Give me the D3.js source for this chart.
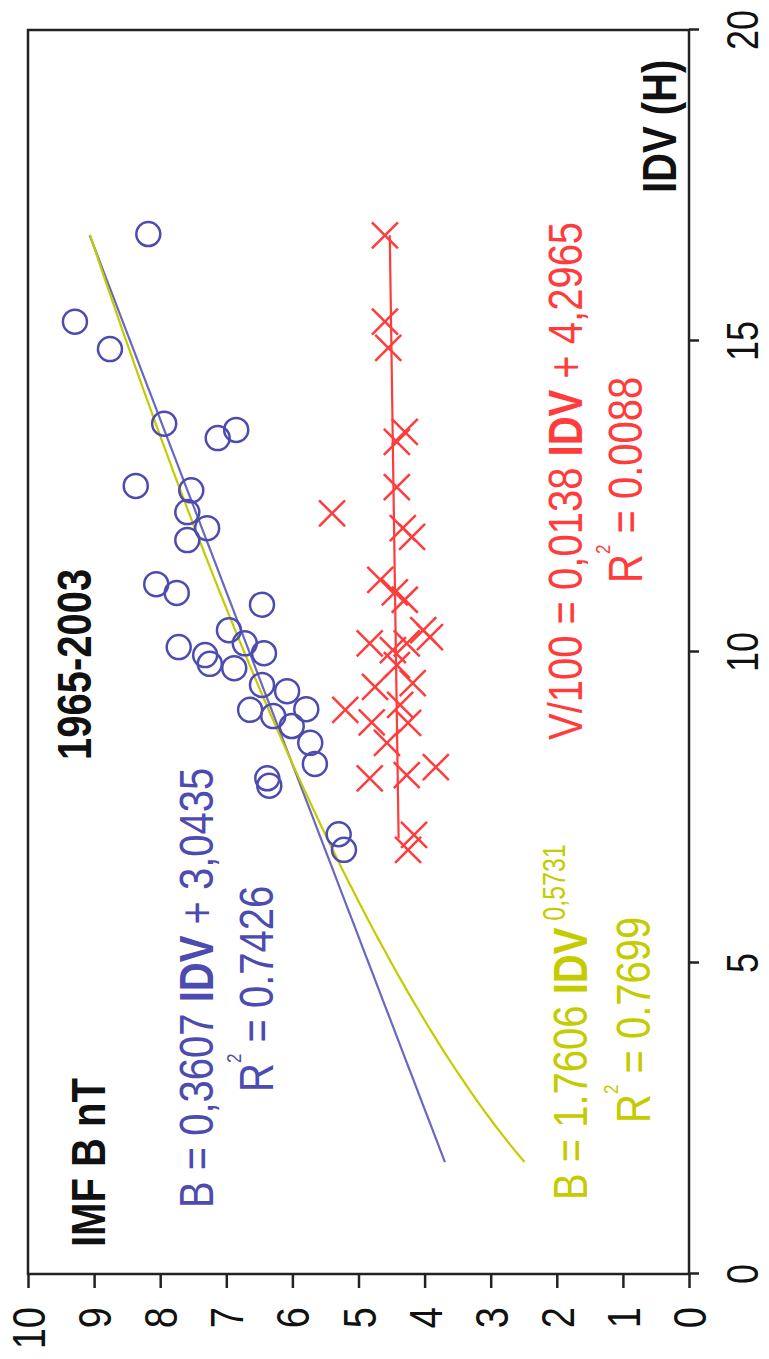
<!DOCTYPE html>
<meta charset="utf-8">
<title>IMF B vs IDV 1965-2003</title>
<script src="https://d3js.org/d3.v7.min.js"></script>
<style>
body { margin: 0; background: #fff; }
text { font-family: 'Liberation Sans', Arial, sans-serif; }
</style>
<svg id="chart" width="769" height="1359"></svg>
<script>
// values
var idvTicks = [0, 5, 10, 15, 20];
var bTicks = [0, 1, 2, 3, 4, 5, 6, 7, 8, 9, 10];

// IMF B (circles)
var circleIdv = [16.72, 15.31, 14.87, 13.67, 13.44, 13.57, 12.67, 12.60, 12.25, 11.99, 11.80,
    11.09, 10.95, 10.76, 10.35, 10.08, 9.95, 10.14, 9.98, 9.81, 9.74, 9.47, 9.37, 9.07, 8.97,
    9.08, 8.81, 8.54, 8.20, 7.97, 7.85, 7.07, 6.82];
var circleB = [8.18, 9.29, 8.76, 7.94, 7.13, 6.85, 8.37, 7.53, 7.59, 7.29, 7.59,
    8.06, 7.75, 6.46, 6.96, 7.72, 7.32, 6.72, 6.43, 7.25, 6.88, 6.46, 6.08, 6.64, 6.29,
    5.79, 6.01, 5.73, 5.66, 6.38, 6.35, 5.30, 5.22];

// V/100 (crosses)
var crossIdv = [16.70, 15.31, 14.89, 13.54, 13.38, 12.65, 12.23, 11.99, 11.85, 11.16, 10.96,
    10.84, 10.35, 10.14, 10.03, 10.14, 10.24, 9.79, 9.50, 9.44, 9.07, 8.87, 9.15, 8.86,
    8.54, 7.97, 8.02, 8.15, 7.06, 6.82];
var crossV = [4.60, 4.60, 4.55, 4.30, 4.42, 4.42, 5.40, 4.33, 4.19, 4.67, 4.45,
    4.30, 4.02, 4.83, 4.48, 4.27, 3.92, 4.42, 4.18, 4.75, 5.20, 4.80, 4.37, 4.25,
    4.57, 4.83, 4.27, 3.83, 4.16, 4.25];

// trend lines (coefficients of the curves as drawn)
var linFit = [0.3607, 3.0435];   // B = a IDV + b
var powFit = [1.77, 0.58];       // B = a IDV^p, drawn curve sits a bit steeper than the printed one
var redFit = [0.0138, 4.2965];   // V/100 = a IDV + b
var fitRange = [1.8, 16.7];
var redRange = [7.0, 16.7];

var blue = "#4c4cb0", blueLine = "#6868c4", yellow = "#c4cc00", red = "#ff3c3c";

// the chart is drawn upright, then turned a quarter left
var svg = d3.select("#chart");
var g = svg.append("g").attr("transform", "translate(0,1359) rotate(-90)");

var x = d3.scaleLinear().domain([0, 20]).range([85, 1329]);
var y = d3.scaleLinear().domain([0, 10]).range([689, 28]);

var stretch = 1.22;
function label(u, v, parts, opts) {
    opts = opts || {};
    var t = g.append("text")
        .attr("transform", "translate(" + u + "," + v + ") scale(1," + stretch + ")")
        .attr("font-size", opts.size || 40)
        .attr("fill", opts.color || "#111")
        .attr("font-weight", opts.weight || "normal")
        .attr("text-anchor", opts.anchor || "start");
    parts.forEach(function(p) {
        if (typeof p === "string") p = { t: p };
        var s = t.append("tspan").text(p.t);
        if (p.bold) s.attr("font-weight", "bold");
        if (p.size) s.attr("font-size", p.size);
        if (p.dy) s.attr("dy", p.dy);
    });
    return t;
}

// axes ticks
g.append("g").attr("transform", "translate(0,689)")
    .call(d3.axisBottom(x).tickValues(idvTicks).tickSize(10).tickFormat(""))
    .call(function(a) { a.select(".domain").remove(); });
g.append("g").attr("transform", "translate(85,0)")
    .call(d3.axisLeft(y).tickValues(bTicks).tickSize(14).tickFormat(""))
    .call(function(a) { a.select(".domain").remove(); });
g.selectAll(".tick line").attr("stroke", "#222").attr("stroke-width", 2.5);

idvTicks.forEach(function(d) {
    label(x(d), 758, [String(d)], { size: 36, anchor: "middle" });
});
bTicks.forEach(function(d) {
    label(52, y(d) + 17, [String(d)], { size: 38, anchor: "end" });
});

// frame
g.append("rect")
    .attr("x", x(0)).attr("y", y(10))
    .attr("width", x(20) - x(0)).attr("height", y(0) - y(10))
    .attr("fill", "none").attr("stroke", "#222").attr("stroke-width", 2.5);

// trend lines
var step = 0.1;
var fitIdv = d3.range(fitRange[0], fitRange[1] + step / 2, step);
var line = d3.line().x(function(d) { return x(d[0]); }).y(function(d) { return y(d[1]); });

g.append("path")
    .datum(fitIdv.map(function(d) { return [d, linFit[0] * d + linFit[1]]; }))
    .attr("d", line).attr("fill", "none").attr("stroke", blueLine).attr("stroke-width", 2.2);
g.append("path")
    .datum(fitIdv.map(function(d) { return [d, powFit[0] * Math.pow(d, powFit[1])]; }))
    .attr("d", line).attr("fill", "none").attr("stroke", yellow).attr("stroke-width", 2.2);
g.append("path")
    .datum(redRange.map(function(d) { return [d, redFit[0] * d + redFit[1]]; }))
    .attr("d", line).attr("fill", "none").attr("stroke", red).attr("stroke-width", 2.2);

// points
g.selectAll(".pt")
    .data(circleIdv.map(function(d, i) { return [d, circleB[i]]; }))
    .enter().append("circle")
    .attr("class", "pt")
    .attr("cx", function(d) { return x(d[0]); })
    .attr("cy", function(d) { return y(d[1]); })
    .attr("r", 12)
    .attr("fill", "none").attr("stroke", blue).attr("stroke-width", 2.5);

g.selectAll(".cross")
    .data(crossIdv.map(function(d, i) { return [d, crossV[i]]; }))
    .enter().append("path")
    .attr("class", "cross")
    .attr("transform", function(d) { return "translate(" + x(d[0]) + "," + y(d[1]) + ")"; })
    .attr("d", "M-13,-13L13,13M-13,13L13,-13")
    .attr("fill", "none").attr("stroke", red).attr("stroke-width", 2.5);

// texts
label(112, 105, ["IMF B nT"], { weight: "bold" });
label(599, 91, ["1965-2003"], { weight: "bold" });
label(1166, 676, ["IDV (H)"], { weight: "bold" });

label(151, 213, ["B = 0,3607 ", { t: "IDV", bold: true }, " + 3,0435"], { color: blue });
label(267, 273, ["R", { t: "2", size: 17, dy: -26 }, { t: " = 0.7426", dy: 26 }], { color: blue });

label(159, 587, ["B = 1.7606 ", { t: "IDV", bold: true }, { t: " 0,5731", size: 25, dy: -18 }], { color: yellow });
label(236, 650, ["R", { t: "2", size: 17, dy: -26 }, { t: " = 0.7699", dy: 26 }], { color: yellow });

label(619, 582, ["V/100 = 0,0138 ", { t: "IDV", bold: true }, " + 4,2965"], { color: red });
label(776, 642, ["R", { t: "2", size: 17, dy: -26 }, { t: " = 0.0088", dy: 26 }], { color: red });
</script>
